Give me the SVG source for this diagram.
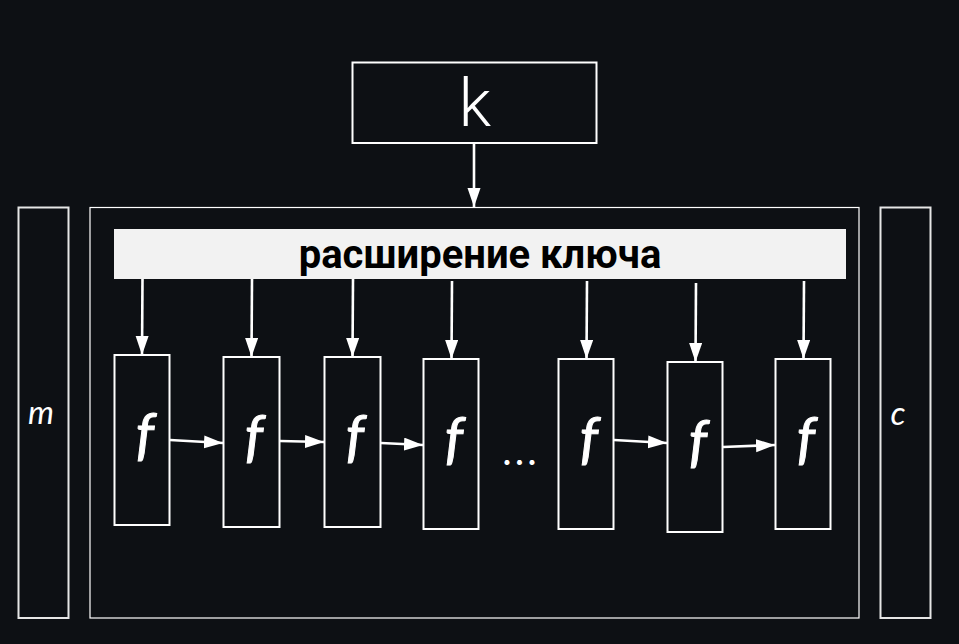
<svg xmlns="http://www.w3.org/2000/svg" width="959" height="644" viewBox="0 0 959 644">
<style>
.box{fill:#0d1014;stroke:#fff;stroke-width:2}
.side{fill:#0d1014;stroke:#e6e6e6;stroke-width:2}
.outer{fill:#0d1014;stroke:#fff;stroke-width:1.2}
.ln{stroke:#fff;stroke-width:2.6;fill:none}
.f{font-family:Lato,"Open Sans",sans-serif;font-style:italic;font-size:57px;fill:#fff;stroke:#fff;stroke-width:1;text-anchor:middle}
.lbl{font-family:Lato,"Liberation Sans",sans-serif;font-style:italic;font-size:33px;fill:#fff;text-anchor:middle}
</style>
<defs>
<marker id="ah" markerUnits="userSpaceOnUse" markerWidth="20" markerHeight="14" refX="19" refY="6.5" orient="auto" viewBox="0 0 20 14">
<path d="M0,0 L19,6.5 L0,13 z" fill="#fff"/>
</marker>
</defs>
<rect width="959" height="644" fill="#0d1014"/>
<g id="outer"><rect class="outer" x="90" y="207.5" width="769" height="410.5"/></g>
<g id="m"><rect class="side" x="18.5" y="207.5" width="50" height="410.5"/><text class="lbl" x="41" y="424">m</text></g>
<g id="c"><rect class="side" x="880.5" y="207.5" width="50" height="410.5"/><text class="lbl" x="898" y="425">c</text></g>
<g id="k"><rect class="box" x="352.5" y="62.5" width="244" height="80.5"/><text x="475" y="126" font-family="Roboto,'Liberation Sans',sans-serif" font-weight="300" font-size="66" fill="#fff" text-anchor="middle">k</text></g>
<g id="expansion"><rect x="114" y="229" width="732" height="50" fill="#f2f2f2"/><text x="480" y="268" font-family="Roboto,'Liberation Sans',sans-serif" font-weight="bold" font-size="40" fill="#000" text-anchor="middle">расширение ключа</text></g>
<g id="f1"><rect class="box" x="114.5" y="355" width="55" height="170"/><text class="f" x="145" y="453">f</text></g>
<g id="f2"><rect class="box" x="223.5" y="357" width="56" height="170"/><text class="f" x="254" y="455">f</text></g>
<g id="f3"><rect class="box" x="324.5" y="357" width="56" height="170"/><text class="f" x="355" y="455">f</text></g>
<g id="f4"><rect class="box" x="423.5" y="359" width="55" height="170"/><text class="f" x="454" y="457">f</text></g>
<g id="dots"><text x="521" y="465" font-family="Lato,'Liberation Sans',sans-serif" font-size="40" letter-spacing="3" fill="#fff" text-anchor="middle">...</text></g>
<g id="f5"><rect class="box" x="558.5" y="359" width="55" height="170"/><text class="f" x="589" y="457">f</text></g>
<g id="f6"><rect class="box" x="667.5" y="362" width="55" height="170"/><text class="f" x="698" y="460">f</text></g>
<g id="f7"><rect class="box" x="775.5" y="359" width="55" height="170"/><text class="f" x="806" y="457">f</text></g>
<g id="connectors">
<line class="ln" x1="474" y1="143" x2="474" y2="207" marker-end="url(#ah)"/>
<line class="ln" x1="142.5" y1="279" x2="142" y2="355" marker-end="url(#ah)"/>
<line class="ln" x1="252" y1="279" x2="251.5" y2="357" marker-end="url(#ah)"/>
<line class="ln" x1="353" y1="279" x2="352.5" y2="357" marker-end="url(#ah)"/>
<line class="ln" x1="452" y1="281" x2="451.5" y2="359" marker-end="url(#ah)"/>
<line class="ln" x1="587" y1="281" x2="586.5" y2="359" marker-end="url(#ah)"/>
<line class="ln" x1="696" y1="283" x2="695.5" y2="362" marker-end="url(#ah)"/>
<line class="ln" x1="804" y1="281" x2="803.5" y2="359" marker-end="url(#ah)"/>
<line class="ln" x1="170" y1="440" x2="223" y2="443" marker-end="url(#ah)"/>
<line class="ln" x1="280" y1="441" x2="324" y2="442" marker-end="url(#ah)"/>
<line class="ln" x1="381" y1="443" x2="423" y2="445" marker-end="url(#ah)"/>
<line class="ln" x1="614" y1="440" x2="667" y2="443" marker-end="url(#ah)"/>
<line class="ln" x1="723" y1="447" x2="775" y2="445" marker-end="url(#ah)"/>
</g>
</svg>
